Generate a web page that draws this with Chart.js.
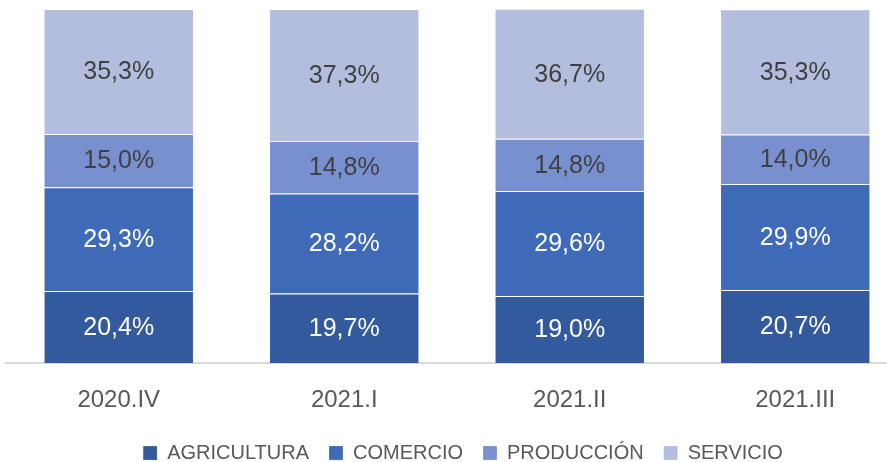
<!DOCTYPE html>
<html>
<head>
<meta charset="utf-8">
<script src="https://cdn.jsdelivr.net/npm/chart.js@4.4.0/dist/chart.umd.min.js"></script>
<style>
  html, body { margin: 0; padding: 0; background: #fff; overflow: hidden; }
  #wrap { width: 908px; height: 462px; position: relative; }
</style>
</head>
<body>
<div id="wrap"><canvas id="grafico"></canvas></div>
<script>
const periodos = ['2020.IV', '2021.I', '2021.II', '2021.III'];
const agricultura = [20.4, 19.7, 19.0, 20.7];
const comercio = [29.3, 28.2, 29.6, 29.9];
const produccion = [15.0, 14.8, 14.8, 14.0];
const servicio = [35.3, 37.3, 36.7, 35.3];

const fuente = '"Liberation Sans", Arial, sans-serif';

// etiquetas dentro de cada segmento
const etiquetas = {
    id: 'etiquetas',
    afterDatasetsDraw(chart) {
        const ctx = chart.ctx;
        ctx.save();
        ctx.font = '25px ' + fuente;
        ctx.textAlign = 'center';
        ctx.textBaseline = 'middle';
        chart.data.datasets.forEach((ds, i) => {
            const meta = chart.getDatasetMeta(i);
            meta.data.forEach((bar, j) => {
                const v = ds.data[j];
                ctx.fillStyle = ds.labelColor;
                ctx.fillText(v.toFixed(1).replace('.', ',') + '%', bar.x, (bar.y + bar.base) / 2 + 1);
            });
        });
        ctx.restore();
    }
};

// leyenda mas compacta y un poco mas abajo
const ajusteLeyenda = {
    id: 'ajusteLeyenda',
    beforeInit(chart) {
        const fit = chart.legend.fit;
        chart.legend.fit = function () {
            fit.bind(chart.legend)();
            this.height -= 18;
        };
    },
    afterLayout(chart) {
        const l = chart.legend;
        l.top -= 7;
        l.left += 6;
        l.right += 6;
    }
};

const ctx = document.getElementById('grafico').getContext('2d');
const grafico = new Chart(ctx, {
    type: 'bar',
    data: {
        labels: periodos,
        datasets: [
            { label: 'AGRICULTURA', data: agricultura, backgroundColor: '#325A9C', labelColor: '#ffffff' },
            { label: 'COMERCIO', data: comercio, backgroundColor: '#3E6AB7', labelColor: '#ffffff' },
            { label: 'PRODUCCIÓN', data: produccion, backgroundColor: '#7990D0', labelColor: '#404040' },
            { label: 'SERVICIO', data: servicio, backgroundColor: '#B3BEDF', labelColor: '#404040' }
        ]
    },
    options: {
        responsive: true,
        maintainAspectRatio: false,
        animation: false,
        datasets: {
            bar: {
                categoryPercentage: 1,
                barPercentage: 0.667,
                borderWidth: 1,
                borderColor: 'rgba(255,255,255,0.2)',
                borderSkipped: 'bottom'
            }
        },
        layout: { padding: { left: 6, right: 0, top: 9, bottom: 0 } },
        plugins: {
            legend: {
                position: 'bottom',
                labels: {
                    boxWidth: 14,
                    boxHeight: 14,
                    padding: 20,
                    color: '#595959',
                    font: { family: fuente, size: 20 }
                }
            },
            tooltip: { enabled: false }
        },
        scales: {
            x: {
                stacked: true,
                grid: { display: false },
                border: { color: '#D9D9D9', width: 2 },
                ticks: {
                    color: '#595959',
                    padding: 15,
                    font: { family: fuente, size: 24 }
                }
            },
            y: {
                stacked: true,
                display: false,
                min: 0,
                max: 100
            }
        }
    },
    plugins: [etiquetas, ajusteLeyenda]
});
</script>
</body>
</html>
